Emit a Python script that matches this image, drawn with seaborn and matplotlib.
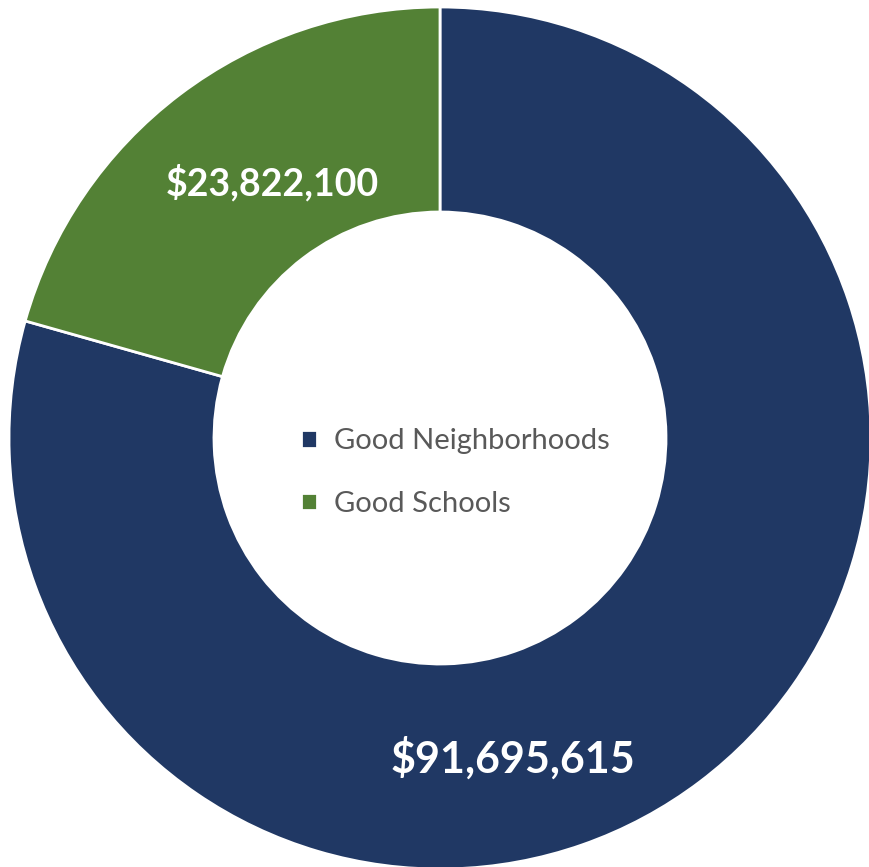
import matplotlib
matplotlib.use("Agg")
import matplotlib.pyplot as plt
import seaborn as sns

categories = ["Good Neighborhoods", "Good Schools"]
values = [91695615, 23822100]
value_labels = ["$91,695,615", "$23,822,100"]
colors = ["#203864", "#538135"]

sns.set_style("white")
plt.rcParams['font.family'] = ['Lato', 'DejaVu Sans']

fig = plt.figure(figsize=(8.69, 8.67), dpi=100)
ax = fig.add_axes([0, 0, 1, 1])

palette = sns.color_palette(colors)
wedges, _ = ax.pie(values, colors=palette, startangle=90, counterclock=False,
                   radius=431, center=(0, 0),
                   wedgeprops=dict(width=205, edgecolor="white", linewidth=2))

ax.set_xlim(-440, 429)
ax.set_ylim(-429, 438)
ax.set_aspect("equal")
ax.axis("off")

# value labels inside the ring
ax.text(73, -320, value_labels[0], color="white", fontsize=31, fontweight="bold",
        ha="center", va="center")
ax.text(-168, 255, value_labels[1], color="white", fontsize=27, fontweight="bold",
        ha="center", va="center")

leg = ax.legend(wedges, categories, loc="center", bbox_to_anchor=(0.524, 0.455),
                frameon=False, fontsize=21, handlelength=0.55, handleheight=0.55,
                handletextpad=0.55, labelspacing=1.25, labelcolor="#595959")

fig.savefig("out.png", dpi=100)
